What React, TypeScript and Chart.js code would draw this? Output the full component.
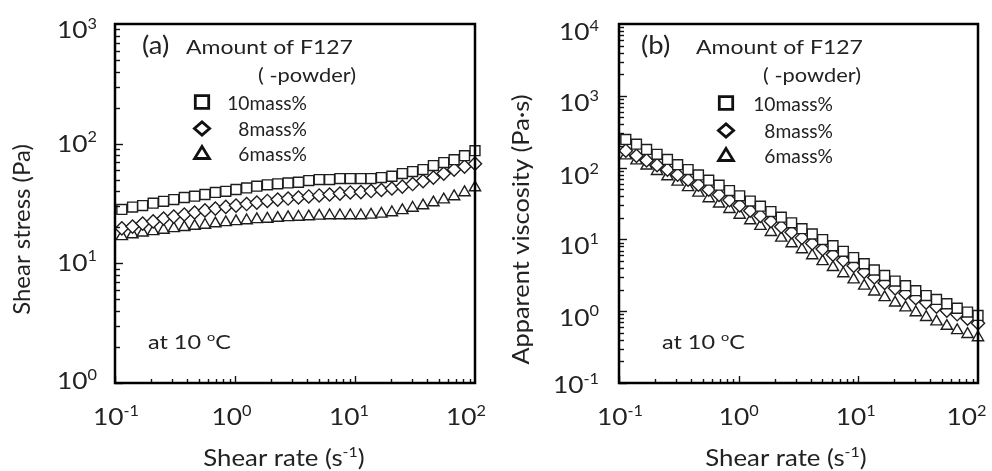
import React, { useEffect, useRef } from "react";
import { Chart, registerables } from "chart.js";

Chart.register(...registerables);

// ---------- data ----------
const shearRate = [
  0.114, 0.14, 0.17, 0.208, 0.254, 0.309, 0.378, 0.461, 0.562, 0.686, 0.838, 1.02, 1.25, 1.52, 1.86, 2.27, 2.77,
  3.38, 4.12, 5.03, 6.14, 7.49, 9.14, 11.2, 13.6, 16.6, 20.3, 24.8, 30.2, 36.9, 45.0, 54.9, 67.0, 81.8, 100,
];
const stress10 = [
  28.2, 29.5, 30.4, 31.8, 33.0, 34.1, 35.5, 36.4, 37.6, 39.1, 40.0, 41.4, 42.7, 44.1, 45.3, 46.2, 47.0, 47.6, 49.2,
  50.1, 50.1, 51.1, 51.1, 51.1, 51.1, 52.1, 53.4, 56.2, 58.4, 60.7, 65.6, 69.5, 73.5, 79.4, 87.4,
];
const stress8 = [
  19.6, 20.3, 21.5, 22.4, 23.7, 24.6, 25.6, 26.6, 27.7, 28.7, 29.6, 30.4, 31.3, 32.2, 33.2, 34.1, 34.8, 35.5, 36.2,
  36.9, 37.6, 38.3, 39.1, 39.4, 40.2, 41.0, 42.2, 43.8, 46.0, 48.7, 52.1, 56.2, 60.7, 64.3, 68.1,
];
const stress6 = [
  16.8, 17.4, 18.0, 18.5, 19.0, 19.6, 20.0, 20.5, 20.9, 21.5, 22.0, 22.4, 22.8, 23.3, 23.5, 23.9, 24.2, 24.4, 24.6,
  24.9, 25.1, 25.1, 25.1, 25.1, 25.4, 25.9, 26.6, 27.7, 29.0, 30.4, 32.2, 34.1, 36.2, 39.1, 43.0,
];
const visc10 = [
  247, 212, 179, 153, 130, 110, 94.0, 79.0, 66.9, 57.0, 47.8, 40.5, 34.2, 29.0, 24.4, 20.4, 17.0, 14.1, 11.9, 9.96,
  8.16, 6.82, 5.59, 4.58, 3.75, 3.14, 2.63, 2.27, 1.93, 1.65, 1.46, 1.27, 1.1, 0.971, 0.874,
];
const visc8 = [
  172, 146, 126, 108, 93.5, 79.5, 67.8, 57.7, 49.3, 41.8, 35.3, 29.7, 25.1, 21.2, 17.9, 15.0, 12.6, 10.5, 8.78, 7.34,
  6.13, 5.11, 4.28, 3.53, 2.95, 2.47, 2.08, 1.77, 1.52, 1.32, 1.16, 1.02, 0.906, 0.787, 0.681,
];
const visc6 = [
  147, 125, 106, 89.1, 75.0, 63.3, 53.0, 44.5, 37.2, 31.3, 26.3, 21.9, 18.3, 15.3, 12.6, 10.5, 8.75, 7.23, 5.97, 4.95,
  4.09, 3.35, 2.75, 2.25, 1.87, 1.56, 1.31, 1.12, 0.96, 0.825, 0.716, 0.621, 0.54, 0.478, 0.43,
];
const seriesLabels = ["10mass%", "8mass%", "6mass%"];
const xTickExponents = [-1, 0, 1, 2];
const yTickExponentsA = [0, 1, 2, 3];
const yTickExponentsB = [-1, 0, 1, 2, 3, 4];

// ---------- drawing helpers ----------
const FONT = "Lato, 'Open Sans', sans-serif";
const INK = "#222";
const SX = 1.12;

type Part = { t: string; sup?: boolean };

function drawRich(
  ctx: CanvasRenderingContext2D,
  parts: Part[],
  x: number,
  y: number,
  size: number,
  align: "left" | "center" | "right",
  supSize = size * 0.62,
  rise = size * 0.42,
  sx = SX
) {
  const widths = parts.map((p) => {
    ctx.font = `${p.sup ? supSize : size}px ${FONT}`;
    return ctx.measureText(p.t).width;
  });
  const total = widths.reduce((a, b) => a + b, 0) * sx;
  const start = align === "left" ? x : align === "right" ? x - total : x - total / 2;
  ctx.save();
  ctx.translate(start, y + size * 0.36);
  ctx.scale(sx, 1);
  ctx.textAlign = "left";
  ctx.textBaseline = "alphabetic";
  ctx.fillStyle = INK;
  let cx = 0;
  parts.forEach((p, i) => {
    ctx.font = `${p.sup ? supSize : size}px ${FONT}`;
    ctx.fillText(p.t, cx, p.sup ? -rise : 0);
    cx += widths[i];
  });
  ctx.restore();
}

function drawMarker(ctx: CanvasRenderingContext2D, kind: string, x: number, y: number) {
  ctx.save();
  ctx.strokeStyle = "#111";
  ctx.fillStyle = "#fff";
  ctx.lineWidth = 2.8;
  ctx.lineJoin = "miter";
  ctx.beginPath();
  if (kind === "rect") {
    ctx.rect(x - 6.7, y - 6.3, 13.4, 12.6);
  } else if (kind === "rectRot") {
    ctx.moveTo(x, y - 6.6);
    ctx.lineTo(x + 7.6, y);
    ctx.lineTo(x, y + 6.6);
    ctx.lineTo(x - 7.6, y);
    ctx.closePath();
  } else {
    ctx.moveTo(x, y - 6.5);
    ctx.lineTo(x + 7.4, y + 5.5);
    ctx.lineTo(x - 7.4, y + 5.5);
    ctx.closePath();
  }
  ctx.fill();
  ctx.stroke();
  ctx.restore();
}

type PanelCfg = {
  tag: string;
  yTitle: Part[];
  yTitleSx: number;
  yMin: number;
  yMax: number;
  yExps: number[];
  values: number[][];
  padding: { top: number; right: number; bottom: number; left: number };
  yAxisWidth: number;
  xAxisHeight: number;
  yLabelRight: number;
  yLabelShifts: number[];
  xLabelShifts: number[];
  yTitleX: number;
  xTitleX: number;
  tagX: number;
  amountX: number;
  powderX: number;
  markerX: number;
  legendRight: number;
  legendY: number[];
  atX: number;
};

const markerKinds = ["rect", "rectRot", "triangle"];

function makePlugin(cfg: PanelCfg) {
  return {
    id: "decor",
    afterDraw(chart: any) {
      const ctx: CanvasRenderingContext2D = chart.ctx;
      const area = chart.chartArea;
      const xs = chart.scales.x;
      const ys = chart.scales.y;
      ctx.save();
      // ticks (inward)
      ctx.strokeStyle = "#111";
      ctx.lineWidth = 1.4;
      for (let e = -1; e < 2; e++) {
        for (let d = 1; d <= 9; d++) {
          const v = d * Math.pow(10, e);
          const px = Math.round(xs.getPixelForValue(v)) + 0.5;
          const len = d === 1 ? 7 : 4;
          ctx.beginPath();
          ctx.moveTo(px, area.bottom);
          ctx.lineTo(px, area.bottom - len);
          ctx.stroke();
        }
      }
      const eMin = Math.round(Math.log10(cfg.yMin));
      const eMax = Math.round(Math.log10(cfg.yMax));
      for (let e = eMin; e < eMax; e++) {
        for (let d = 1; d <= 9; d++) {
          const v = d * Math.pow(10, e);
          const py = Math.round(ys.getPixelForValue(v)) + 0.5;
          const len = d === 1 ? 8 : 5;
          ctx.beginPath();
          ctx.moveTo(area.left, py);
          ctx.lineTo(area.left + len, py);
          ctx.stroke();
        }
      }
      // frame
      ctx.lineWidth = 2.5;
      ctx.strokeStyle = "#000";
      ctx.strokeRect(area.left, area.top, area.right - area.left, area.bottom - area.top);
      ctx.restore();

      // tick labels
      xTickExponents.forEach((e, i) => {
        const px = xs.getPixelForValue(Math.pow(10, e)) + cfg.xLabelShifts[i];
        drawRich(ctx, [{ t: "10" }, { t: String(e), sup: true }], px, area.bottom + 34, 23.5, "center");
      });
      cfg.yExps.forEach((e, i) => {
        const py = ys.getPixelForValue(Math.pow(10, e));
        drawRich(ctx, [{ t: "10" }, { t: String(e), sup: true }], cfg.yLabelRight, py + cfg.yLabelShifts[i], 23.5, "right");
      });

      // axis titles
      drawRich(ctx, [{ t: "Shear rate (s" }, { t: "-1", sup: true }, { t: ")" }], cfg.xTitleX, 458, 23, "center");
      ctx.save();
      ctx.translate(cfg.yTitleX, (area.top + area.bottom) / 2 + 26);
      ctx.rotate(-Math.PI / 2);
      drawRich(ctx, cfg.yTitle, 0, 0, 23.5, "center", 23, 0, cfg.yTitleSx);
      ctx.restore();

      // panel tag & legend
      drawRich(ctx, [{ t: cfg.tag }], cfg.tagX, 45, 24.5, "left");
      drawRich(ctx, [{ t: "Amount of F127" }], cfg.amountX, 47, 19.5, "left", undefined, undefined, 1.18);
      drawRich(ctx, [{ t: "( -powder)" }], cfg.powderX, 75, 19.5, "left");
      seriesLabels.forEach((lab, i) => {
        drawMarker(ctx, markerKinds[i], cfg.markerX, cfg.legendY[i]);
        drawRich(ctx, [{ t: lab }], cfg.legendRight, cfg.legendY[i] + 1, 18.5, "right", undefined, undefined, 1.04);
      });
      drawRich(ctx, [{ t: "at 10 " }, { t: "o", sup: true }, { t: "C" }], cfg.atX, 342, 19.5, "left", undefined, undefined, 1.2);
    },
  };
}

function Panel({ cfg }: { cfg: PanelCfg }) {
  const ref = useRef<HTMLCanvasElement | null>(null);
  useEffect(() => {
    if (!ref.current) return;
    const radii = [7, 6.6, 6.5];
    const chart = new Chart(ref.current, {
      type: "scatter",
      data: {
        datasets: cfg.values.map((vals, i) => ({
          label: seriesLabels[i],
          data: vals.map((v, k) => ({ x: shearRate[k], y: v })),
          pointStyle: markerKinds[i] as any,
          pointRadius: radii[i],
          pointBackgroundColor: "#ffffff",
          pointBorderColor: "#1e1e1e",
          pointBorderWidth: 1.4,
          showLine: false,
          clip: false as any,
        })),
      },
      options: {
        animation: false,
        responsive: false,
        maintainAspectRatio: false,
        events: [],
        layout: { padding: cfg.padding },
        plugins: { legend: { display: false }, tooltip: { enabled: false } },
        scales: {
          x: {
            type: "logarithmic",
            min: 0.1,
            max: 100,
            grid: { display: false },
            border: { display: false },
            ticks: { display: false },
            afterFit: (s: any) => {
              s.height = cfg.xAxisHeight;
            },
          },
          y: {
            type: "logarithmic",
            min: cfg.yMin,
            max: cfg.yMax,
            grid: { display: false },
            border: { display: false },
            ticks: { display: false },
            afterFit: (s: any) => {
              s.width = cfg.yAxisWidth;
            },
          },
        },
      },
      plugins: [makePlugin(cfg)],
    });
    return () => chart.destroy();
  }, [cfg]);
  return <canvas ref={ref} width={496} height={471} style={{ display: "block", width: 496, height: 471 }} />;
}

const panelA: PanelCfg = {
  tag: "(a)",
  yTitle: [{ t: "Shear stress (Pa)" }],
  yTitleSx: 1.02,
  yMin: 1,
  yMax: 1000,
  yExps: yTickExponentsA,
  values: [stress10, stress8, stress6],
  padding: { top: 24, right: 21, bottom: 0, left: 0 },
  yAxisWidth: 115,
  xAxisHeight: 88,
  yLabelRight: 97,
  yLabelShifts: [-2, -1, 0, 6],
  xLabelShifts: [1, -3.5, -6, -9],
  yTitleX: 22,
  xTitleX: 284,
  tagX: 142,
  amountX: 186,
  powderX: 258,
  markerX: 202,
  legendRight: 307,
  legendY: [102, 128.5, 153],
  atX: 148,
};

const panelB: PanelCfg = {
  tag: "(b)",
  yTitle: [{ t: "Apparent viscosity (Pa·s)" }],
  yTitleSx: 1.08,
  yMin: 0.1,
  yMax: 10000,
  yExps: yTickExponentsB,
  values: [visc10, visc8, visc6],
  padding: { top: 24, right: 14, bottom: 0, left: 0 },
  yAxisWidth: 123,
  xAxisHeight: 88,
  yLabelRight: 103,
  yLabelShifts: [2, 6, 6, 8, 7, 8],
  xLabelShifts: [1, 0, -2.5, -11.5],
  yTitleX: 25,
  xTitleX: 290,
  tagX: 145,
  amountX: 200,
  powderX: 267,
  markerX: 230,
  legendRight: 337,
  legendY: [103, 130.5, 155],
  atX: 166,
};

export default function App() {
  return (
    <div
      style={{
        position: "fixed",
        left: 0,
        top: 0,
        width: 992,
        height: 471,
        background: "#fff",
        display: "flex",
        flexDirection: "row",
      }}
    >
      <Panel cfg={panelA} />
      <Panel cfg={panelB} />
    </div>
  );
}
